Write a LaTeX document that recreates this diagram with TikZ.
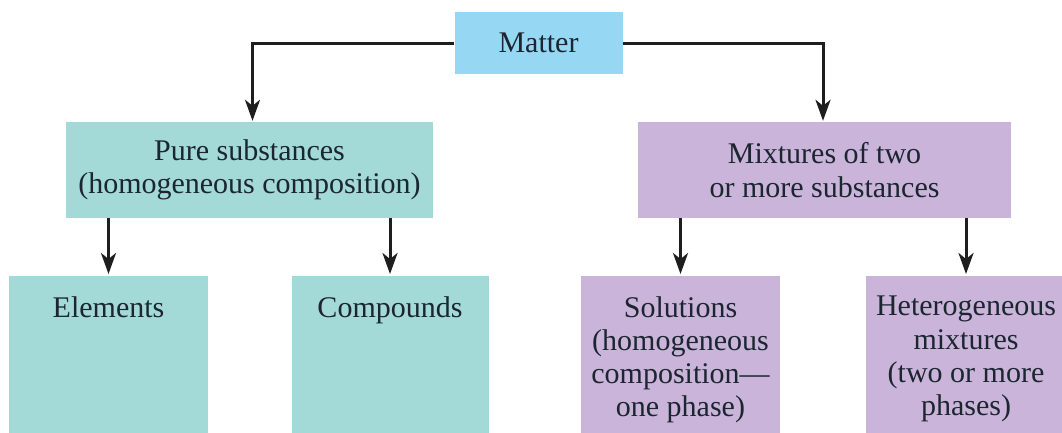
\documentclass[tikz,border=0pt]{standalone}
\usepackage{fontspec}
\setmainfont{Liberation Serif}
\usetikzlibrary{arrows.meta}
\definecolor{mblue}{HTML}{96D8F3}
\definecolor{mteal}{HTML}{A3D9D6}
\definecolor{mpurple}{HTML}{CBB4DA}
\definecolor{txt}{HTML}{1B2630}
\definecolor{lin}{HTML}{1E1E1E}
\begin{document}
\begin{tikzpicture}[x=1pt,y=-1pt,
  box/.style={rectangle, inner sep=0pt, text=txt, font=\fontsize{30}{33.3}\selectfont, align=center},
  childbox/.style={rectangle, inner xsep=0pt, inner ysep=20pt, text=txt, anchor=north, font=\fontsize{30}{33.3}\selectfont},
  arr/.style={draw=lin, line width=3pt, -{Stealth[length=21pt,width=15pt,inset=6pt]}},
  ]
\useasboundingbox (0,0) rectangle (1062,432);
\clip (0,0) rectangle (1062,432);
\fill[white] (0,0) rectangle (1062,432);

\node[box, fill=mblue, minimum width=168pt, minimum height=62pt] (matter) at (538.5,43) {Matter};
\node[box, fill=mteal, minimum width=367pt, minimum height=96pt] (pure) at (249.5,170) {Pure substances\\(homogeneous composition)};
\node[box, fill=mpurple, minimum width=373pt, minimum height=96pt] (mix) at (824.5,170) {Mixtures of two\\or more substances};

\node[childbox, fill=mteal] (elem) at (108.5,276) {\parbox[t][150pt][t]{199pt}{\centering Elements}};
\node[childbox, fill=mteal] (comp) at (390,276) {\parbox[t][150pt][t]{197pt}{\centering Compounds}};
\node[childbox, fill=mpurple] (sol) at (680.5,276) {\parbox[t][150pt][t]{199pt}{\centering Solutions\\(homogeneous\\composition---\\one phase)}};
\node[childbox, fill=mpurple] (het) at (966,276) {\parbox[t][150pt][t]{200pt}{\centering Heterogeneous\\mixtures\\(two or more\\phases)}};

\draw[arr, shorten >=1pt] (matter.west) -| ([xshift=3pt]pure.north);
\draw[arr, shorten >=1pt] (matter.east) -| ([xshift=-1.5pt]mix.north);
\draw[arr, shorten >=2pt] (elem.north |- pure.south) -- (elem.north);
\draw[arr, shorten >=2pt] (comp.north |- pure.south) -- (comp.north);
\draw[arr, shorten >=2pt] (sol.north |- mix.south) -- (sol.north);
\draw[arr, shorten >=2pt] (het.north |- mix.south) -- (het.north);
\end{tikzpicture}
\end{document}
